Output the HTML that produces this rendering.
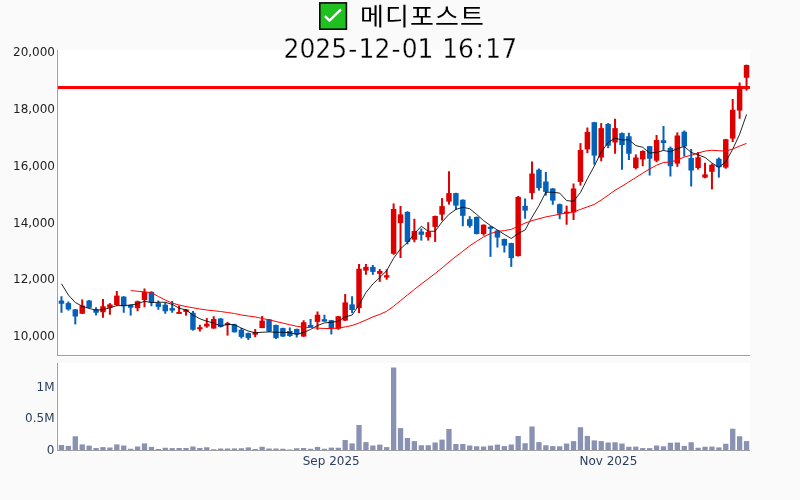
<!DOCTYPE html>
<html lang="ko"><head><meta charset="utf-8"><title>메디포스트</title>
<style>html,body{margin:0;padding:0;background:#fafafa;overflow:hidden}svg{display:block}.t{font-family:"DejaVu Sans","Liberation Sans","Noto Sans CJK KR",sans-serif;font-size:12px}.k{font-family:"Noto Sans CJK KR","NanumGothic","DejaVu Sans",sans-serif}.d{font-family:"DejaVu Sans","Liberation Sans",sans-serif}</style></head><body>
<svg width="800" height="500" viewBox="0 0 800 500">
<rect x="0" y="0" width="800" height="500" fill="#fafafa"/>
<rect x="56" y="50" width="694" height="307" fill="#fff"/>
<rect x="56" y="363" width="694" height="89" fill="#fff"/>
<line x1="58" x2="750" y1="87.5" y2="87.5" stroke="#ff0000" stroke-width="3"/>
<g>
<rect x="60.46" y="296.25" width="2" height="16.50" fill="#0560b8"/>
<rect x="58.73" y="300.60" width="5.46" height="3.15" fill="#0560b8"/>
<rect x="67.38" y="301.50" width="2" height="9.10" fill="#0560b8"/>
<rect x="65.65" y="303.10" width="5.46" height="6.30" fill="#0560b8"/>
<rect x="74.30" y="309.00" width="2" height="15.40" fill="#0560b8"/>
<rect x="72.57" y="309.40" width="5.46" height="7.10" fill="#0560b8"/>
<rect x="81.22" y="299.40" width="2" height="14.60" fill="#dd0000"/>
<rect x="79.49" y="305.60" width="5.46" height="8.15" fill="#dd0000"/>
<rect x="88.14" y="300.00" width="2" height="8.10" fill="#0560b8"/>
<rect x="86.41" y="300.60" width="5.46" height="7.15" fill="#0560b8"/>
<rect x="95.06" y="307.25" width="2" height="8.15" fill="#0560b8"/>
<rect x="93.33" y="309.40" width="5.46" height="3.35" fill="#0560b8"/>
<rect x="101.98" y="299.00" width="2" height="18.75" fill="#dd0000"/>
<rect x="100.25" y="306.25" width="5.46" height="6.00" fill="#dd0000"/>
<rect x="108.90" y="303.10" width="2" height="11.65" fill="#dd0000"/>
<rect x="107.17" y="304.40" width="5.46" height="3.35" fill="#dd0000"/>
<rect x="115.82" y="291.00" width="2" height="14.60" fill="#dd0000"/>
<rect x="114.09" y="295.60" width="5.46" height="9.40" fill="#dd0000"/>
<rect x="122.74" y="296.25" width="2" height="16.50" fill="#0560b8"/>
<rect x="121.01" y="296.60" width="5.46" height="9.65" fill="#0560b8"/>
<rect x="129.66" y="304.40" width="2" height="11.20" fill="#0560b8"/>
<rect x="127.93" y="305.00" width="5.46" height="2.75" fill="#0560b8"/>
<rect x="136.58" y="300.60" width="2" height="10.65" fill="#dd0000"/>
<rect x="134.85" y="301.25" width="5.46" height="6.85" fill="#dd0000"/>
<rect x="143.50" y="288.50" width="2" height="18.75" fill="#dd0000"/>
<rect x="141.77" y="291.90" width="5.46" height="8.10" fill="#dd0000"/>
<rect x="150.42" y="291.25" width="2" height="15.00" fill="#0560b8"/>
<rect x="148.69" y="291.90" width="5.46" height="10.60" fill="#0560b8"/>
<rect x="157.34" y="300.60" width="2" height="9.15" fill="#0560b8"/>
<rect x="155.61" y="303.10" width="5.46" height="3.80" fill="#0560b8"/>
<rect x="164.26" y="302.50" width="2" height="11.25" fill="#0560b8"/>
<rect x="162.53" y="304.75" width="5.46" height="6.50" fill="#0560b8"/>
<rect x="171.18" y="301.00" width="2" height="11.75" fill="#0560b8"/>
<rect x="169.45" y="308.10" width="5.46" height="2.50" fill="#0560b8"/>
<rect x="178.10" y="305.60" width="2" height="7.90" fill="#dd0000"/>
<rect x="176.37" y="311.90" width="5.46" height="2.00" fill="#dd0000"/>
<rect x="185.02" y="309.00" width="2" height="6.60" fill="#dd0000"/>
<rect x="183.29" y="309.40" width="5.46" height="2.50" fill="#dd0000"/>
<rect x="191.94" y="311.00" width="2" height="19.60" fill="#0560b8"/>
<rect x="190.21" y="312.75" width="5.46" height="17.00" fill="#0560b8"/>
<rect x="198.86" y="324.75" width="2" height="6.75" fill="#dd0000"/>
<rect x="197.13" y="327.25" width="5.46" height="2.00" fill="#dd0000"/>
<rect x="205.78" y="318.10" width="2" height="9.65" fill="#dd0000"/>
<rect x="204.05" y="323.75" width="5.46" height="2.75" fill="#dd0000"/>
<rect x="212.70" y="316.25" width="2" height="12.50" fill="#dd0000"/>
<rect x="210.97" y="319.00" width="5.46" height="9.50" fill="#dd0000"/>
<rect x="219.62" y="318.10" width="2" height="9.40" fill="#0560b8"/>
<rect x="217.89" y="318.50" width="5.46" height="8.40" fill="#0560b8"/>
<rect x="226.54" y="321.90" width="2" height="13.70" fill="#dd0000"/>
<rect x="224.81" y="323.10" width="5.46" height="2.00" fill="#dd0000"/>
<rect x="233.46" y="323.75" width="2" height="8.75" fill="#0560b8"/>
<rect x="231.73" y="324.40" width="5.46" height="7.85" fill="#0560b8"/>
<rect x="240.38" y="328.10" width="2" height="10.40" fill="#0560b8"/>
<rect x="238.65" y="329.75" width="5.46" height="7.15" fill="#0560b8"/>
<rect x="247.30" y="332.50" width="2" height="7.50" fill="#0560b8"/>
<rect x="245.57" y="333.10" width="5.46" height="5.00" fill="#0560b8"/>
<rect x="254.22" y="329.00" width="2" height="8.25" fill="#dd0000"/>
<rect x="252.49" y="332.25" width="5.46" height="2.50" fill="#dd0000"/>
<rect x="261.14" y="316.00" width="2" height="12.10" fill="#dd0000"/>
<rect x="259.41" y="320.60" width="5.46" height="7.50" fill="#dd0000"/>
<rect x="268.06" y="319.00" width="2" height="12.90" fill="#0560b8"/>
<rect x="266.33" y="319.40" width="5.46" height="12.10" fill="#0560b8"/>
<rect x="274.98" y="324.60" width="2" height="14.40" fill="#0560b8"/>
<rect x="273.25" y="325.00" width="5.46" height="13.10" fill="#0560b8"/>
<rect x="281.90" y="327.75" width="2" height="9.15" fill="#0560b8"/>
<rect x="280.17" y="328.10" width="5.46" height="8.40" fill="#0560b8"/>
<rect x="288.82" y="327.50" width="2" height="9.40" fill="#0560b8"/>
<rect x="287.09" y="331.00" width="5.46" height="5.00" fill="#0560b8"/>
<rect x="295.74" y="328.60" width="2" height="8.90" fill="#0560b8"/>
<rect x="294.01" y="329.00" width="5.46" height="5.40" fill="#0560b8"/>
<rect x="302.66" y="320.25" width="2" height="16.65" fill="#dd0000"/>
<rect x="300.93" y="322.25" width="5.46" height="14.25" fill="#dd0000"/>
<rect x="309.58" y="319.00" width="2" height="8.00" fill="#0560b8"/>
<rect x="307.85" y="325.00" width="5.46" height="2.00" fill="#0560b8"/>
<rect x="316.50" y="311.50" width="2" height="18.25" fill="#dd0000"/>
<rect x="314.77" y="314.75" width="5.46" height="7.15" fill="#dd0000"/>
<rect x="323.42" y="314.75" width="2" height="6.85" fill="#0560b8"/>
<rect x="321.69" y="319.20" width="5.46" height="2.40" fill="#0560b8"/>
<rect x="330.34" y="319.90" width="2" height="14.50" fill="#0560b8"/>
<rect x="328.61" y="320.25" width="5.46" height="7.85" fill="#0560b8"/>
<rect x="337.26" y="316.00" width="2" height="13.75" fill="#dd0000"/>
<rect x="335.53" y="316.25" width="5.46" height="12.50" fill="#dd0000"/>
<rect x="344.18" y="294.00" width="2" height="27.00" fill="#dd0000"/>
<rect x="342.45" y="302.40" width="5.46" height="18.20" fill="#dd0000"/>
<rect x="351.10" y="296.25" width="2" height="16.85" fill="#0560b8"/>
<rect x="349.37" y="304.40" width="5.46" height="5.60" fill="#0560b8"/>
<rect x="358.02" y="264.00" width="2" height="49.10" fill="#dd0000"/>
<rect x="356.29" y="268.75" width="5.46" height="39.35" fill="#dd0000"/>
<rect x="364.94" y="264.00" width="2" height="10.75" fill="#dd0000"/>
<rect x="363.21" y="266.90" width="5.46" height="3.70" fill="#dd0000"/>
<rect x="371.86" y="265.00" width="2" height="9.75" fill="#0560b8"/>
<rect x="370.13" y="266.90" width="5.46" height="5.00" fill="#0560b8"/>
<rect x="378.78" y="269.00" width="2" height="12.90" fill="#dd0000"/>
<rect x="377.05" y="271.00" width="5.46" height="2.75" fill="#dd0000"/>
<rect x="385.70" y="269.40" width="2" height="10.35" fill="#dd0000"/>
<rect x="383.97" y="275.25" width="5.46" height="2.25" fill="#dd0000"/>
<rect x="392.62" y="203.50" width="2" height="51.25" fill="#dd0000"/>
<rect x="390.89" y="209.00" width="5.46" height="44.75" fill="#dd0000"/>
<rect x="399.54" y="206.00" width="2" height="52.00" fill="#dd0000"/>
<rect x="397.81" y="214.40" width="5.46" height="8.70" fill="#dd0000"/>
<rect x="406.46" y="211.25" width="2" height="33.15" fill="#0560b8"/>
<rect x="404.73" y="211.90" width="5.46" height="30.00" fill="#0560b8"/>
<rect x="413.38" y="218.75" width="2" height="23.50" fill="#dd0000"/>
<rect x="411.65" y="231.00" width="5.46" height="8.75" fill="#dd0000"/>
<rect x="420.30" y="228.50" width="2" height="12.10" fill="#0560b8"/>
<rect x="418.57" y="231.50" width="5.46" height="3.25" fill="#0560b8"/>
<rect x="427.22" y="222.25" width="2" height="18.35" fill="#dd0000"/>
<rect x="425.49" y="231.90" width="5.46" height="5.35" fill="#dd0000"/>
<rect x="434.14" y="215.60" width="2" height="26.30" fill="#dd0000"/>
<rect x="432.41" y="216.00" width="5.46" height="10.90" fill="#dd0000"/>
<rect x="441.06" y="198.10" width="2" height="22.50" fill="#dd0000"/>
<rect x="439.33" y="206.10" width="5.46" height="8.50" fill="#dd0000"/>
<rect x="447.98" y="171.25" width="2" height="33.35" fill="#dd0000"/>
<rect x="446.25" y="193.10" width="5.46" height="8.50" fill="#dd0000"/>
<rect x="454.90" y="192.75" width="2" height="17.00" fill="#0560b8"/>
<rect x="453.17" y="193.10" width="5.46" height="12.50" fill="#0560b8"/>
<rect x="461.82" y="199.40" width="2" height="26.85" fill="#0560b8"/>
<rect x="460.09" y="199.75" width="5.46" height="16.05" fill="#0560b8"/>
<rect x="468.74" y="216.25" width="2" height="11.50" fill="#0560b8"/>
<rect x="467.01" y="219.20" width="5.46" height="6.70" fill="#0560b8"/>
<rect x="475.66" y="216.50" width="2" height="17.90" fill="#0560b8"/>
<rect x="473.93" y="217.00" width="5.46" height="17.00" fill="#0560b8"/>
<rect x="482.58" y="224.40" width="2" height="11.20" fill="#dd0000"/>
<rect x="480.85" y="224.75" width="5.46" height="9.25" fill="#dd0000"/>
<rect x="489.50" y="226.00" width="2" height="30.90" fill="#0560b8"/>
<rect x="487.77" y="226.90" width="5.46" height="2.00" fill="#0560b8"/>
<rect x="496.42" y="230.00" width="2" height="17.50" fill="#0560b8"/>
<rect x="494.69" y="230.60" width="5.46" height="6.90" fill="#0560b8"/>
<rect x="503.34" y="238.60" width="2" height="13.90" fill="#0560b8"/>
<rect x="501.61" y="239.00" width="5.46" height="6.60" fill="#0560b8"/>
<rect x="510.26" y="242.75" width="2" height="24.15" fill="#0560b8"/>
<rect x="508.53" y="243.10" width="5.46" height="15.00" fill="#0560b8"/>
<rect x="517.18" y="196.00" width="2" height="60.50" fill="#dd0000"/>
<rect x="515.45" y="196.90" width="5.46" height="59.20" fill="#dd0000"/>
<rect x="524.10" y="198.50" width="2" height="20.25" fill="#0560b8"/>
<rect x="522.37" y="205.80" width="5.46" height="4.80" fill="#0560b8"/>
<rect x="531.02" y="161.50" width="2" height="37.90" fill="#dd0000"/>
<rect x="529.29" y="173.50" width="5.46" height="19.60" fill="#dd0000"/>
<rect x="537.94" y="168.50" width="2" height="22.10" fill="#0560b8"/>
<rect x="536.21" y="169.75" width="5.46" height="18.35" fill="#0560b8"/>
<rect x="544.86" y="171.90" width="2" height="23.70" fill="#0560b8"/>
<rect x="543.13" y="181.50" width="5.46" height="10.40" fill="#0560b8"/>
<rect x="551.78" y="188.10" width="2" height="16.65" fill="#0560b8"/>
<rect x="550.05" y="188.50" width="5.46" height="12.10" fill="#0560b8"/>
<rect x="558.70" y="203.60" width="2" height="15.60" fill="#0560b8"/>
<rect x="556.97" y="204.20" width="5.46" height="9.55" fill="#0560b8"/>
<rect x="565.62" y="205.60" width="2" height="19.15" fill="#dd0000"/>
<rect x="563.89" y="211.60" width="5.46" height="2.00" fill="#dd0000"/>
<rect x="572.54" y="183.50" width="2" height="36.50" fill="#dd0000"/>
<rect x="570.81" y="188.50" width="5.46" height="24.00" fill="#dd0000"/>
<rect x="579.46" y="143.10" width="2" height="42.50" fill="#dd0000"/>
<rect x="577.73" y="150.00" width="5.46" height="31.90" fill="#dd0000"/>
<rect x="586.38" y="127.50" width="2" height="25.60" fill="#dd0000"/>
<rect x="584.65" y="131.90" width="5.46" height="17.50" fill="#dd0000"/>
<rect x="593.30" y="121.90" width="2" height="42.70" fill="#0560b8"/>
<rect x="591.57" y="122.25" width="5.46" height="33.35" fill="#0560b8"/>
<rect x="600.22" y="123.10" width="2" height="38.15" fill="#dd0000"/>
<rect x="598.49" y="128.10" width="5.46" height="29.40" fill="#dd0000"/>
<rect x="607.14" y="123.10" width="2" height="25.00" fill="#0560b8"/>
<rect x="605.41" y="124.00" width="5.46" height="21.60" fill="#0560b8"/>
<rect x="614.06" y="118.75" width="2" height="35.00" fill="#dd0000"/>
<rect x="612.33" y="128.10" width="5.46" height="14.40" fill="#dd0000"/>
<rect x="620.98" y="132.50" width="2" height="37.25" fill="#0560b8"/>
<rect x="619.25" y="133.10" width="5.46" height="11.90" fill="#0560b8"/>
<rect x="627.90" y="132.75" width="2" height="27.25" fill="#0560b8"/>
<rect x="626.17" y="136.25" width="5.46" height="17.50" fill="#0560b8"/>
<rect x="634.82" y="154.40" width="2" height="15.00" fill="#dd0000"/>
<rect x="633.09" y="157.50" width="5.46" height="10.60" fill="#dd0000"/>
<rect x="641.74" y="150.25" width="2" height="16.00" fill="#dd0000"/>
<rect x="640.01" y="151.00" width="5.46" height="8.40" fill="#dd0000"/>
<rect x="648.66" y="145.90" width="2" height="29.60" fill="#0560b8"/>
<rect x="646.93" y="146.20" width="5.46" height="12.50" fill="#0560b8"/>
<rect x="655.58" y="135.00" width="2" height="27.20" fill="#dd0000"/>
<rect x="653.85" y="140.00" width="5.46" height="20.70" fill="#dd0000"/>
<rect x="662.50" y="126.00" width="2" height="24.25" fill="#0560b8"/>
<rect x="660.77" y="140.25" width="5.46" height="2.75" fill="#0560b8"/>
<rect x="669.42" y="146.50" width="2" height="30.00" fill="#0560b8"/>
<rect x="667.69" y="148.00" width="5.46" height="18.20" fill="#0560b8"/>
<rect x="676.34" y="132.40" width="2" height="34.40" fill="#dd0000"/>
<rect x="674.61" y="135.50" width="5.46" height="28.10" fill="#dd0000"/>
<rect x="683.26" y="130.50" width="2" height="26.00" fill="#0560b8"/>
<rect x="681.53" y="131.75" width="5.46" height="14.75" fill="#0560b8"/>
<rect x="690.18" y="149.00" width="2" height="37.50" fill="#0560b8"/>
<rect x="688.45" y="158.00" width="5.46" height="12.50" fill="#0560b8"/>
<rect x="697.10" y="152.00" width="2" height="17.60" fill="#dd0000"/>
<rect x="695.37" y="157.30" width="5.46" height="10.70" fill="#dd0000"/>
<rect x="704.02" y="162.75" width="2" height="15.55" fill="#dd0000"/>
<rect x="702.29" y="174.40" width="5.46" height="3.20" fill="#dd0000"/>
<rect x="710.94" y="163.60" width="2" height="25.80" fill="#dd0000"/>
<rect x="709.21" y="164.80" width="5.46" height="7.00" fill="#dd0000"/>
<rect x="717.86" y="157.50" width="2" height="20.10" fill="#0560b8"/>
<rect x="716.13" y="158.75" width="5.46" height="8.50" fill="#0560b8"/>
<rect x="724.78" y="138.90" width="2" height="29.80" fill="#dd0000"/>
<rect x="723.05" y="139.25" width="5.46" height="28.35" fill="#dd0000"/>
<rect x="731.70" y="99.00" width="2" height="43.00" fill="#dd0000"/>
<rect x="729.97" y="109.75" width="5.46" height="28.85" fill="#dd0000"/>
<rect x="738.62" y="82.50" width="2" height="36.25" fill="#dd0000"/>
<rect x="736.89" y="87.25" width="5.46" height="23.35" fill="#dd0000"/>
<rect x="745.54" y="64.60" width="2" height="26.00" fill="#dd0000"/>
<rect x="743.81" y="65.00" width="5.46" height="12.75" fill="#dd0000"/>
</g>
<polyline points="61.46,283.75 68.38,295.00 75.30,302.50 82.22,306.25 89.14,308.50 96.06,310.00 102.98,309.75 109.90,307.75 116.82,305.60 123.74,305.60 130.66,305.00 137.58,303.75 144.50,301.25 151.42,302.60 158.34,302.25 165.26,302.25 172.18,304.40 179.10,308.10 186.02,310.00 192.94,315.00 199.86,318.75 206.78,321.25 213.70,323.10 220.62,326.00 227.54,324.40 234.46,324.75 241.38,328.10 248.30,331.00 255.22,332.75 262.14,332.25 269.06,331.90 275.98,332.25 282.90,332.25 289.82,332.75 296.74,334.40 303.66,332.50 310.58,329.40 317.50,325.60 324.42,322.90 331.34,322.25 338.26,321.25 345.18,316.90 352.10,315.00 359.02,305.00 365.94,292.50 372.86,284.00 379.78,277.50 386.70,270.60 393.62,258.20 400.54,248.75 407.46,242.50 414.38,233.75 421.30,226.25 428.22,231.25 435.14,231.25 442.06,221.90 448.98,214.40 455.90,209.40 462.82,207.25 469.74,208.75 476.66,214.40 483.58,220.60 490.50,225.60 497.42,230.00 504.34,234.40 511.26,238.50 518.18,233.50 525.10,230.00 532.02,217.20 538.94,205.60 545.86,192.25 552.78,192.25 559.70,193.10 566.62,200.60 573.54,201.25 580.46,192.50 587.38,178.75 594.30,166.00 601.22,152.00 608.14,142.50 615.06,138.10 621.98,140.00 628.90,139.75 635.82,145.60 642.74,147.25 649.66,153.10 656.58,152.30 663.50,150.50 670.42,151.75 677.34,148.60 684.26,146.50 691.18,152.40 698.10,154.90 705.02,157.40 711.94,163.00 718.86,167.40 725.78,161.75 732.70,149.25 739.62,134.25 746.54,114.40" fill="none" stroke="#000" stroke-width="0.85" stroke-linejoin="round"/>
<polyline points="130.66,290.60 137.58,291.25 144.50,291.90 151.42,292.60 158.34,296.50 165.26,300.00 172.18,303.10 179.10,305.00 186.02,306.50 192.94,307.75 199.86,309.00 206.78,310.00 213.70,310.75 220.62,311.50 227.54,312.50 234.46,313.50 241.38,315.00 248.30,316.00 255.22,316.90 262.14,318.50 269.06,319.75 275.98,321.50 282.90,323.10 289.82,324.75 296.74,326.25 303.66,327.25 310.58,327.50 317.50,328.10 324.42,328.50 331.34,328.50 338.26,328.10 345.18,326.90 352.10,325.50 359.02,323.00 365.94,320.00 372.86,316.90 379.78,314.40 386.70,311.25 393.62,306.25 400.54,300.60 407.46,295.00 414.38,289.40 421.30,284.00 428.22,278.75 435.14,273.50 442.06,268.00 448.98,262.00 455.90,256.50 462.82,251.25 469.74,245.80 476.66,241.25 483.58,236.90 490.50,233.50 497.42,231.50 504.34,230.60 511.26,229.40 518.18,226.25 525.10,223.10 532.02,220.60 538.94,218.75 545.86,216.90 552.78,215.60 559.70,214.20 566.62,213.10 573.54,211.90 580.46,209.40 587.38,206.90 594.30,204.40 601.22,200.00 608.14,195.25 615.06,190.25 621.98,186.25 628.90,181.90 635.82,177.50 642.74,173.10 649.66,168.90 656.58,165.20 663.50,162.50 670.42,162.00 677.34,160.00 684.26,157.00 691.18,155.25 698.10,153.00 705.02,151.10 711.94,150.25 718.86,150.75 725.78,151.10 732.70,149.00 739.62,146.10 746.54,143.40" fill="none" stroke="#ff0000" stroke-width="1" stroke-linejoin="round"/>
<g fill="#8992b3">
<rect x="58.81" y="445.00" width="5.3" height="5.00"/>
<rect x="65.73" y="445.90" width="5.3" height="4.10"/>
<rect x="72.65" y="436.25" width="5.3" height="13.75"/>
<rect x="79.57" y="444.40" width="5.3" height="5.60"/>
<rect x="86.49" y="445.60" width="5.3" height="4.40"/>
<rect x="93.41" y="448.00" width="5.3" height="2.00"/>
<rect x="100.33" y="447.10" width="5.3" height="2.90"/>
<rect x="107.25" y="447.50" width="5.3" height="2.50"/>
<rect x="114.17" y="444.40" width="5.3" height="5.60"/>
<rect x="121.09" y="445.50" width="5.3" height="4.50"/>
<rect x="128.01" y="448.75" width="5.3" height="1.25"/>
<rect x="134.93" y="446.50" width="5.3" height="3.50"/>
<rect x="141.85" y="443.40" width="5.3" height="6.60"/>
<rect x="148.77" y="446.90" width="5.3" height="3.10"/>
<rect x="155.69" y="449.00" width="5.3" height="1.00"/>
<rect x="162.61" y="447.75" width="5.3" height="2.25"/>
<rect x="169.53" y="448.10" width="5.3" height="1.90"/>
<rect x="176.45" y="448.00" width="5.3" height="2.00"/>
<rect x="183.37" y="448.00" width="5.3" height="2.00"/>
<rect x="190.29" y="446.50" width="5.3" height="3.50"/>
<rect x="197.21" y="448.00" width="5.3" height="2.00"/>
<rect x="204.13" y="447.25" width="5.3" height="2.75"/>
<rect x="211.05" y="449.25" width="5.3" height="0.75"/>
<rect x="217.97" y="448.50" width="5.3" height="1.50"/>
<rect x="224.89" y="448.50" width="5.3" height="1.50"/>
<rect x="231.81" y="448.40" width="5.3" height="1.60"/>
<rect x="238.73" y="448.25" width="5.3" height="1.75"/>
<rect x="245.65" y="447.40" width="5.3" height="2.60"/>
<rect x="252.57" y="449.00" width="5.3" height="1.00"/>
<rect x="259.49" y="446.75" width="5.3" height="3.25"/>
<rect x="266.41" y="448.50" width="5.3" height="1.50"/>
<rect x="273.33" y="448.50" width="5.3" height="1.50"/>
<rect x="280.25" y="448.75" width="5.3" height="1.25"/>
<rect x="287.17" y="449.50" width="5.3" height="0.50"/>
<rect x="294.09" y="448.25" width="5.3" height="1.75"/>
<rect x="301.01" y="448.00" width="5.3" height="2.00"/>
<rect x="307.93" y="448.75" width="5.3" height="1.25"/>
<rect x="314.85" y="446.90" width="5.3" height="3.10"/>
<rect x="321.77" y="448.75" width="5.3" height="1.25"/>
<rect x="328.69" y="447.60" width="5.3" height="2.40"/>
<rect x="335.61" y="447.75" width="5.3" height="2.25"/>
<rect x="342.53" y="440.00" width="5.3" height="10.00"/>
<rect x="349.45" y="443.40" width="5.3" height="6.60"/>
<rect x="356.37" y="425.00" width="5.3" height="25.00"/>
<rect x="363.29" y="442.10" width="5.3" height="7.90"/>
<rect x="370.21" y="445.50" width="5.3" height="4.50"/>
<rect x="377.13" y="444.60" width="5.3" height="5.40"/>
<rect x="384.05" y="447.10" width="5.3" height="2.90"/>
<rect x="390.97" y="367.50" width="5.3" height="82.50"/>
<rect x="397.89" y="428.10" width="5.3" height="21.90"/>
<rect x="404.81" y="438.00" width="5.3" height="12.00"/>
<rect x="411.73" y="441.10" width="5.3" height="8.90"/>
<rect x="418.65" y="445.25" width="5.3" height="4.75"/>
<rect x="425.57" y="445.25" width="5.3" height="4.75"/>
<rect x="432.49" y="442.50" width="5.3" height="7.50"/>
<rect x="439.41" y="439.60" width="5.3" height="10.40"/>
<rect x="446.33" y="429.00" width="5.3" height="21.00"/>
<rect x="453.25" y="444.00" width="5.3" height="6.00"/>
<rect x="460.17" y="444.00" width="5.3" height="6.00"/>
<rect x="467.09" y="445.50" width="5.3" height="4.50"/>
<rect x="474.01" y="446.25" width="5.3" height="3.75"/>
<rect x="480.93" y="446.50" width="5.3" height="3.50"/>
<rect x="487.85" y="445.60" width="5.3" height="4.40"/>
<rect x="494.77" y="444.60" width="5.3" height="5.40"/>
<rect x="501.69" y="446.10" width="5.3" height="3.90"/>
<rect x="508.61" y="444.50" width="5.3" height="5.50"/>
<rect x="515.53" y="436.00" width="5.3" height="14.00"/>
<rect x="522.45" y="443.25" width="5.3" height="6.75"/>
<rect x="529.37" y="426.50" width="5.3" height="23.50"/>
<rect x="536.29" y="442.10" width="5.3" height="7.90"/>
<rect x="543.21" y="445.25" width="5.3" height="4.75"/>
<rect x="550.13" y="446.10" width="5.3" height="3.90"/>
<rect x="557.05" y="446.25" width="5.3" height="3.75"/>
<rect x="563.97" y="443.50" width="5.3" height="6.50"/>
<rect x="570.89" y="441.10" width="5.3" height="8.90"/>
<rect x="577.81" y="427.25" width="5.3" height="22.75"/>
<rect x="584.73" y="435.90" width="5.3" height="14.10"/>
<rect x="591.65" y="440.40" width="5.3" height="9.60"/>
<rect x="598.57" y="441.10" width="5.3" height="8.90"/>
<rect x="605.49" y="442.50" width="5.3" height="7.50"/>
<rect x="612.41" y="442.25" width="5.3" height="7.75"/>
<rect x="619.33" y="443.50" width="5.3" height="6.50"/>
<rect x="626.25" y="446.75" width="5.3" height="3.25"/>
<rect x="633.17" y="446.60" width="5.3" height="3.40"/>
<rect x="640.09" y="448.10" width="5.3" height="1.90"/>
<rect x="647.01" y="448.10" width="5.3" height="1.90"/>
<rect x="653.93" y="445.50" width="5.3" height="4.50"/>
<rect x="660.85" y="446.25" width="5.3" height="3.75"/>
<rect x="667.77" y="442.75" width="5.3" height="7.25"/>
<rect x="674.69" y="442.50" width="5.3" height="7.50"/>
<rect x="681.61" y="445.90" width="5.3" height="4.10"/>
<rect x="688.53" y="442.25" width="5.3" height="7.75"/>
<rect x="695.45" y="447.75" width="5.3" height="2.25"/>
<rect x="702.37" y="446.75" width="5.3" height="3.25"/>
<rect x="709.29" y="446.60" width="5.3" height="3.40"/>
<rect x="716.21" y="447.40" width="5.3" height="2.60"/>
<rect x="723.13" y="443.75" width="5.3" height="6.25"/>
<rect x="730.05" y="428.75" width="5.3" height="21.25"/>
<rect x="736.97" y="436.25" width="5.3" height="13.75"/>
<rect x="743.89" y="441.10" width="5.3" height="8.90"/>
</g>
<rect x="57" y="50" width="1" height="306" fill="#9e9e9e"/>
<rect x="57" y="355" width="693" height="1" fill="#9e9e9e"/>
<rect x="57" y="363" width="1" height="88" fill="#9e9e9e"/>
<rect x="57" y="450" width="693" height="1" fill="#9e9e9e"/>
<text class="t" x="55" y="56.0" text-anchor="end" fill="#222">20,000</text>
<text class="t" x="55" y="112.8" text-anchor="end" fill="#222">18,000</text>
<text class="t" x="55" y="169.6" text-anchor="end" fill="#222">16,000</text>
<text class="t" x="55" y="227.0" text-anchor="end" fill="#222">14,000</text>
<text class="t" x="55" y="283.2" text-anchor="end" fill="#222">12,000</text>
<text class="t" x="55" y="340.0" text-anchor="end" fill="#222">10,000</text>
<text class="t" x="54.5" y="390.9" text-anchor="end" fill="#2a3f5f">1M</text>
<text class="t" x="54.5" y="422.1" text-anchor="end" fill="#2a3f5f">0.5M</text>
<text class="t" x="54.5" y="454.1" text-anchor="end" fill="#2a3f5f">0</text>
<text class="t" x="331.2" y="464.8" text-anchor="middle" fill="#2a3f5f">Sep 2025</text>
<text class="t" x="608.4" y="464.8" text-anchor="middle" fill="#2a3f5f">Nov 2025</text>
<rect x="319.8" y="2.9" width="26.6" height="26.3" fill="#1fc01f" stroke="#0a0a0a" stroke-width="1.6"/>
<path d="M324.9 16.2 L329.5 20.6 L341 9.4" fill="none" stroke="#fff" stroke-width="2.3"/>
<text class="k" transform="translate(360.1,24.9) scale(1.04,0.95)" x="0" y="0" font-size="25" letter-spacing="1.04" fill="#000">메디포스트</text>
<text class="d" font-size="25" y="58" fill="#000" stroke="#fcfcfc" stroke-width="0.3" transform="translate(0,58) scale(1,1.035) translate(0,-58)" x="283.60 299.49 315.38 331.27 348.32 358.51 374.40 391.45 401.64 417.53 433.84 442.21 458.10 475.45 485.34 501.23">2025-12-01 16:17</text>
</svg></body></html>
